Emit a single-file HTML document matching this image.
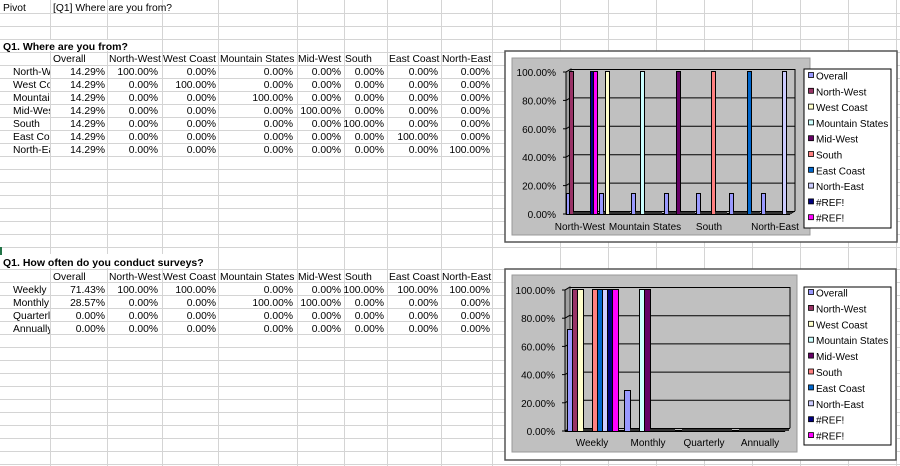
<!DOCTYPE html>
<html><head><meta charset="utf-8">
<style>
html,body{margin:0;padding:0;background:#fff;}
svg{display:block;font-family:"Liberation Sans",Arial,sans-serif;}
.c{font-size:10.3px;fill:#000;}
.b{font-size:10.5px;font-weight:bold;fill:#000;}
.r{text-anchor:end;}
.l{font-size:10px;fill:#000;}
.ax{font-size:10px;fill:#000;}
</style></head><body>
<svg id="s" width="900" height="466" viewBox="0 0 900 466" xmlns="http://www.w3.org/2000/svg">
<g id="grid" stroke="#d4d4d4" stroke-width="1"></g>
<g id="txt">
<text class="c" x="3" y="11">Pivot</text>
<text class="c" x="53" y="11">[Q1] Where are you from?</text>
<rect x="1" y="40" width="160" height="11" fill="#fff"/>
<text class="b" x="3" y="50">Q1. Where are you from?</text>
<text class="c" x="53" y="62">Overall</text><text class="c" x="109" y="62">North-West</text><text class="c" x="163" y="62">West Coast</text><text class="c" x="220" y="62">Mountain States</text><text class="c" x="298" y="62">Mid-West</text><text class="c" x="345" y="62">South</text><text class="c" x="389" y="62">East Coast</text><text class="c" x="442" y="62">North-East</text>
<rect x="1" y="254" width="215" height="14" fill="#fff"/>
<rect x="0" y="247" width="2" height="8" fill="#217346"/>
<text class="b" x="3" y="266">Q1. How often do you conduct surveys?</text>
<text class="c" x="53" y="280">Overall</text><text class="c" x="109" y="280">North-West</text><text class="c" x="163" y="280">West Coast</text><text class="c" x="220" y="280">Mountain States</text><text class="c" x="298" y="280">Mid-West</text><text class="c" x="345" y="280">South</text><text class="c" x="389" y="280">East Coast</text><text class="c" x="442" y="280">North-East</text>
</g>
<g id="rows"></g>
<g id="charts"></g>
</svg>
<script>
var NS="http://www.w3.org/2000/svg";
function el(p,t,a,txt){var e=document.createElementNS(NS,t);for(var k in a)e.setAttribute(k,a[k]);if(txt!=null)e.textContent=txt;p.appendChild(e);return e;}
var g=document.getElementById('grid');
var vx=[50,107,162,218,297,344,387,441,492,560,608,656,704,752,800,848,896];
var hy=[];for(var y=13;y<=247;y+=13)hy.push(y);hy.push(269);for(var y=282;y<466;y+=13)hy.push(y);
vx.forEach(function(x){el(g,'line',{x1:x+.5,y1:0,x2:x+.5,y2:466});});
hy.forEach(function(y){el(g,'line',{x1:0,y1:y+.5,x2:900,y2:y+.5});});
var R=document.getElementById('rows');
var rights=[105,158,216,293,341,384,438,490];
var clip=el(R,'clipPath',{id:'cl'});el(clip,'rect',{x:0,y:0,width:50,height:466});
function row(label,vals,base){el(R,'text',{'class':'c',x:13,y:base,'clip-path':'url(#cl)'},label);
vals.forEach(function(v,i){el(R,'text',{'class':'c r',x:rights[i],y:base},v);});}
var L1=['North-West','West Coast','Mountain States','Mid-West','South','East Coast','North-East'];
for(var i=0;i<7;i++){var v=['14.29%'];for(var j=0;j<7;j++)v.push(j==i?'100.00%':'0.00%');row(L1[i],v,75+13*i);}
row('Weekly',['71.43%','100.00%','100.00%','0.00%','0.00%','100.00%','100.00%','100.00%'],293);
row('Monthly',['28.57%','0.00%','0.00%','100.00%','100.00%','0.00%','0.00%','0.00%'],306);
row('Quarterly',['0.00%','0.00%','0.00%','0.00%','0.00%','0.00%','0.00%','0.00%'],319);
row('Annually',['0.00%','0.00%','0.00%','0.00%','0.00%','0.00%','0.00%','0.00%'],332);
var C=document.getElementById('charts');
var cols=['#9999FF','#993366','#FFFFCC','#CCFFFF','#660066','#FF8080','#0066CC','#CCCCFF','#000080','#FF00FF'];
var names=['Overall','North-West','West Coast','Mountain States','Mid-West','South','East Coast','North-East','#REF!','#REF!'];
function chart(o){
 el(C,'rect',{x:o.fx,y:o.fy,width:o.fw,height:o.fh,fill:'#fff',stroke:'#555','stroke-width':1.5});
 el(C,'rect',{x:o.gx,y:o.gy,width:o.gw,height:o.gh,fill:'#c0c0c0',stroke:'#999'});
 var step=(o.y0-o.y100)/5;
 el(C,'polygon',{points:(o.px)+','+(o.y100)+' '+(o.px+5)+','+(o.y100-3)+' '+(o.px+5)+','+(o.y0-3)+' '+o.px+','+o.y0,fill:'#a0a0a0',stroke:'#333'});
 for(var k=0;k<=5;k++){var y=o.y0-step*k;
  el(C,'line',{x1:o.px,y1:y,x2:o.px+5,y2:y-3,stroke:'#000'});
  el(C,'line',{x1:o.px+5,y1:y-3+.5,x2:o.pr,y2:y-3+.5,stroke:'#000'});
  el(C,'line',{x1:o.px-3,y1:y,x2:o.px,y2:y,stroke:'#000'});
  el(C,'text',{'class':'ax r',x:o.px-10,y:y+4},(k*20).toFixed(2)+'%');}
 el(C,'line',{x1:o.px,y1:o.y0,x2:o.pr-5,y2:o.y0,stroke:'#000','stroke-width':2});
 el(C,'line',{x1:o.pr-5,y1:o.y0,x2:o.pr,y2:o.y0-3,stroke:'#000'});
 el(C,'line',{x1:o.pr,y1:o.y100-3,x2:o.pr,y2:o.y0-3,stroke:'#000'});
 el(C,'line',{x1:o.px,y1:o.y100,x2:o.px,y2:o.y0,stroke:'#000'});
 o.data.forEach(function(vs,ci){vs.forEach(function(v,si){
  var x=Math.round(o.cs+o.cw*ci+o.bw*si),h=Math.round((o.y0-o.y100)*v);
  if(h<1){el(C,'rect',{x:x,y:o.y0-2,width:o.bw,height:2,fill:'#333'});return;}
  el(C,'rect',{x:x-1,y:o.y0-h-1,width:o.bw+2,height:h+1,fill:'#000'});
  el(C,'rect',{x:x,y:o.y0-h,width:o.bw,height:h,fill:cols[si]});
 });});
 o.labels.forEach(function(l){el(C,'text',{'class':'ax',x:l[1],y:o.ly,'text-anchor':'middle'},l[0]);});
 el(C,'rect',{x:o.lx,y:o.lgy,width:o.lw,height:o.lh,fill:'#fff',stroke:'#000'});
 names.forEach(function(n,i){var y=o.l0+o.ls*i;
  el(C,'rect',{x:o.lx+4.5,y:y-3.5,width:5,height:5,fill:cols[i],stroke:'#000','stroke-width':.8});
  el(C,'text',{'class':'l',x:o.lx+12,y:y+3.5},n);});
}
var d1=[];for(var i=0;i<7;i++){var v=[0.1429];for(var j=0;j<7;j++)v.push(j==i?1:0);v.push(i==0?1:0);v.push(i==0?1:0);d1.push(v);}
chart({fx:505,fy:51,fw:392,fh:191,gx:512,gy:58,gw:298,gh:177,px:566,pr:795,y100:72,y0:214,
 cs:567,cw:32.5,bw:3,data:d1,ly:230,labels:[['North-West',580],['Mountain States',645],['South',709],['North-East',775]],
 lx:804,lgy:69,lw:87,lh:159,l0:76,ls:15.8});
var d2=[[0.7143,1,1,0,0,1,1,1,1,1],[0.2857,0,0,1,1,0,0,0,0,0],[0,0,0,0,0,0,0,0,0,0],[0,0,0,0,0,0,0,0,0,0]];
chart({fx:505,fy:269,fw:391,fh:191,gx:512,gy:275,gw:285,gh:177,px:565,pr:790,y100:290,y0:431,
 cs:568,cw:57,bw:5,data:d2,ly:446,labels:[['Weekly',592],['Monthly',648],['Quarterly',704],['Annually',760]],
 lx:804,lgy:287,lw:87,lh:158,l0:293,ls:15.9});
</script>
</body></html>
